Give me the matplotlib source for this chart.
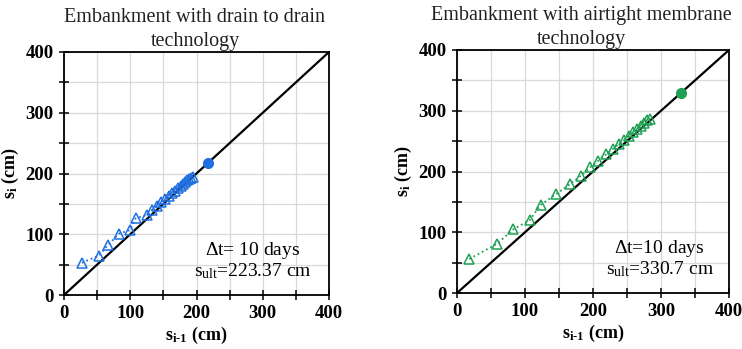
import numpy as np
import matplotlib.pyplot as plt
from matplotlib.ticker import MultipleLocator

plt.rcParams['font.family'] = ['Liberation Serif', 'DejaVu Serif']
plt.rcParams['mathtext.fontset'] = 'custom'
plt.rcParams['mathtext.rm'] = 'Liberation Serif'
plt.rcParams['mathtext.it'] = 'Liberation Serif:italic'
plt.rcParams['mathtext.bf'] = 'Liberation Serif:bold'

# drain to drain embankment: s_{i-1}, s_i (cm)
drain_prev = [27, 53, 66, 83, 100, 108, 126, 133, 140, 147, 153, 158, 163, 168,
              172, 176, 180, 183, 186, 189, 191, 194]
drain_next = [53, 65, 82, 101, 107, 126, 132, 140, 147, 153, 158, 163, 168, 172,
              176, 180, 183, 186, 189, 191, 193, 195]
drain_ult = 218

# airtight membrane embankment
memb_prev = [18, 59, 83, 107, 123, 146, 166, 182, 196, 208, 219, 229, 238, 246,
             253, 259, 265, 270, 275, 280, 284]
memb_next = [56, 81, 105, 120, 145, 163, 179, 193, 207, 218, 228, 237, 245, 252,
             259, 265, 270, 275, 280, 284, 287]
memb_ult = 330

fig = plt.figure(figsize=(7.42, 3.49), dpi=100)
ax1 = fig.add_axes([64/742, 1 - 295/349, 265/742, 243/349])
ax2 = fig.add_axes([457/742, 1 - 293/349, 272/742, 243/349])

# title centre (figure px) differs a bit from axes centre in the right panel
panels = [
    (ax1, drain_prev, drain_next, drain_ult, '#1f6fe0',
     'Embankment with drain to drain', 195,
     '$\\Delta$t= 10 days', 's$_{\\mathrm{ult}}$=223.37 cm', 285),
    (ax2, memb_prev, memb_next, memb_ult, '#1fa055',
     'Embankment with airtight membrane', 581,
     '$\\Delta$t=10 days', 's$_{\\mathrm{ult}}$=330.7 cm', 298),
]

for ax, xp, yn, ult, col, title, title_x, t1, t2, tx in panels:
    ax.plot([0, 400], [0, 400], color='black', lw=1.6, zorder=2)
    ax.plot(xp, yn, linestyle=':', color=col, lw=1.3, marker='^', markersize=6.5,
            markerfacecolor='none', markeredgecolor=col, markeredgewidth=1.1, zorder=3)
    ax.plot([ult], [ult], 'o', color=col, markersize=7, zorder=4)
    ax.set_xlim(0, 400)
    ax.set_ylim(0, 400)
    ax.xaxis.set_major_locator(MultipleLocator(100))
    ax.yaxis.set_major_locator(MultipleLocator(100))
    ax.xaxis.set_minor_locator(MultipleLocator(50))
    ax.yaxis.set_minor_locator(MultipleLocator(50))
    ax.grid(True, which='both', color='#d9d9d9', lw=0.9, zorder=0)
    ax.set_axisbelow(True)
    ax.tick_params(which='both', direction='inout', length=7, width=1.1, color='black')
    ax.tick_params(labelsize=13.5, pad=4)
    for lab in ax.get_xticklabels() + ax.get_yticklabels():
        lab.set_fontweight('bold')
    for sp in ax.spines.values():
        sp.set_linewidth(1.3)
        sp.set_color('black')
    ax.set_xlabel('s$_{\\mathbf{i\\text{-}1}}$ (cm)', fontsize=13, fontweight='bold', labelpad=2)
    ax.set_ylabel('s$_{\\mathbf{i}}$ (cm)', fontsize=13, fontweight='bold', labelpad=3)
    top = ax.get_position().y1
    fig.text(title_x / 742, top + 34 / 349, title, ha='center', va='center',
             fontsize=14.5, color='#222222')
    fig.text(title_x / 742, top + 1 / 349, 'technology', ha='center', va='bottom',
             fontsize=14.5, color='#222222')
    ax.text(tx, 74, t1, ha='center', va='center', fontsize=14)
    ax.text(tx, 40, t2, ha='center', va='center', fontsize=14)

fig.savefig('out.png', dpi=100)
